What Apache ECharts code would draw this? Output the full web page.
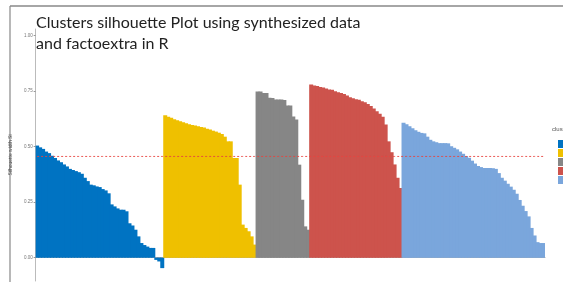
<!DOCTYPE html>
<html>
<head>
<meta charset="utf-8">
<script src="https://cdn.jsdelivr.net/npm/echarts@6/dist/echarts.min.js"></script>
<style>
  html, body { margin: 0; padding: 0; background: #fff; }
  #main { width: 563px; height: 282px; }
</style>
</head>
<body>
<div id="main"></div>
<script>
// silhouette widths per cluster, sorted as in the plot
var clusterNames = ['1', '2', '3', '4', '5'];
var clusterColors = ['#0073C2', '#EFC000', '#868686', '#CD534C', '#7AA6DC'];

var cluster1 = [0.505, 0.497, 0.49, 0.478, 0.471, 0.459, 0.449, 0.438, 0.43, 0.42,
    0.411, 0.40, 0.395, 0.39, 0.385, 0.378, 0.36, 0.345, 0.329, 0.326,
    0.321, 0.318, 0.309, 0.303, 0.29, 0.24, 0.231, 0.222, 0.216, 0.216,
    0.209, 0.155, 0.145, 0.126, 0.096, 0.066, 0.057, 0.05, 0.044, 0.044,
    -0.01, -0.017, -0.047];
var cluster2 = [0.641, 0.635, 0.63, 0.624, 0.619, 0.615, 0.61, 0.605, 0.601, 0.598,
    0.595, 0.592, 0.589, 0.586, 0.581, 0.577, 0.572, 0.568, 0.563, 0.557,
    0.545, 0.524, 0.524, 0.449, 0.449, 0.329, 0.149, 0.134, 0.119, 0.096,
    0.059];
var cluster3 = [0.748, 0.748, 0.742, 0.742, 0.72, 0.719, 0.712, 0.712, 0.712, 0.71,
    0.685, 0.685, 0.636, 0.622, 0.419, 0.261, 0.141, 0.126];
var cluster4 = [0.78, 0.776, 0.773, 0.769, 0.766, 0.762, 0.758, 0.756, 0.75, 0.745,
    0.742, 0.737, 0.73, 0.723, 0.718, 0.714, 0.711, 0.705, 0.70, 0.692,
    0.683, 0.672, 0.659, 0.648, 0.635, 0.60, 0.524, 0.475, 0.42, 0.36,
    0.314];
var cluster5 = [0.608, 0.601, 0.592, 0.583, 0.574, 0.567, 0.562, 0.56, 0.545, 0.531,
    0.524, 0.52, 0.516, 0.516, 0.516, 0.515, 0.502, 0.495, 0.488, 0.478,
    0.468, 0.458, 0.45, 0.437, 0.424, 0.413, 0.408, 0.404, 0.404, 0.404,
    0.403, 0.40, 0.381, 0.36, 0.347, 0.333, 0.32, 0.306, 0.288, 0.26,
    0.234, 0.21, 0.186, 0.134, 0.10, 0.07, 0.066, 0.066];
var avgWidth = 0.456;
var yTicks = [0, 0.25, 0.5, 0.75, 1];

var clusters = [cluster1, cluster2, cluster3, cluster4, cluster5];
var total = 0;
clusters.forEach(function (c) { total += c.length; });
var categories = [];
var avgLine = [];
for (var i = 0; i < total; i++) {
    categories.push(String(i + 1));
    avgLine.push(avgWidth);
}

var series = [];
var offset = 0;
clusters.forEach(function (vals, k) {
    var data = [];
    for (var j = 0; j < total; j++) {
        var idx = j - offset;
        data.push(idx >= 0 && idx < vals.length ? vals[idx] : '-');
    }
    offset += vals.length;
    series.push({
        name: clusterNames[k],
        type: 'bar',
        stack: 'sil',
        barWidth: 4, // a touch wider than the 3px band so neighbours overlap, no seams
        itemStyle: { color: clusterColors[k], borderWidth: 0 },
        data: data
    });
});
// average silhouette width
series.push({
    name: 'avg',
    type: 'line',
    data: avgLine,
    symbol: 'none',
    silent: true,
    z: 5,
    lineStyle: { color: '#E8443F', type: [2, 2], width: 0.9 }
});

var myChart = echarts.init(document.getElementById('main'));
var plotW = 3 * total; // 3 px per observation
var option = {
    backgroundColor: '#fff',
    animation: false,
    grid: { left: 32, width: plotW, top: 29, bottom: 1 },
    legend: {
        orient: 'vertical',
        left: 553,
        top: 135,
        itemWidth: 10,
        itemHeight: 8,
        itemGap: 1,
        icon: 'rect',
        textStyle: { fontSize: 6, color: '#555' },
        data: clusterNames
    },
    xAxis: {
        type: 'category',
        data: categories,
        axisLabel: { show: false },
        axisTick: { show: false },
        axisLine: { lineStyle: { color: '#aaa', width: 1 } }
    },
    yAxis: {
        type: 'value',
        min: -0.105,
        max: 1.03,
        name: 'Silhouette width Si',
        nameLocation: 'middle',
        nameGap: 13,
        nameTextStyle: { fontSize: 5, color: '#444', fontFamily: 'Liberation Sans' },
        splitLine: { show: false },
        axisLine: { show: true, lineStyle: { color: '#bbb', width: 1 } },
        axisTick: { show: true, length: 2, lineStyle: { color: '#999' }, customValues: yTicks },
        axisLabel: {
            fontSize: 4.5, color: '#777', margin: 3,
            customValues: yTicks,
            formatter: function (v) { return v.toFixed(2); }
        }
    },
    graphic: [
        { type: 'line', shape: { x1: 10, y1: 6, x2: 10, y2: 282 }, style: { stroke: '#888', lineWidth: 1.2 } },
        { type: 'line', shape: { x1: 10, y1: 6, x2: 563, y2: 6 }, style: { stroke: '#888', lineWidth: 1.5 } },
        { type: 'text', left: 36, top: 12, style: {
            text: 'Clusters silhouette Plot using synthesized data\nand factoextra in R',
            font: '16px Lato', fill: '#222', lineHeight: 21 } },
        { type: 'text', left: 552, top: 126, style: { text: 'cluster', font: '6px Liberation Sans', fill: '#555' } }
    ],
    series: series
};
myChart.setOption(option);
</script>
</body>
</html>
